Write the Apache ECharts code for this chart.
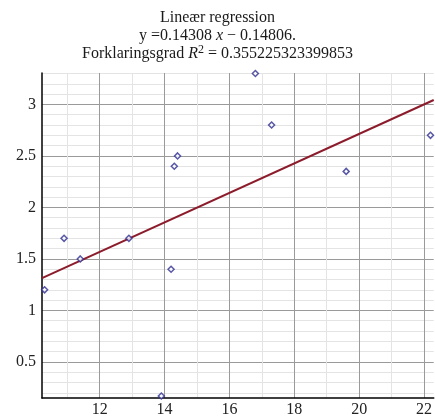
<!DOCTYPE html>
<html><head><meta charset="utf-8">
<script src="https://cdn.jsdelivr.net/npm/echarts@6/dist/echarts.min.js"></script>
<style>html,body{margin:0;padding:0;background:#fff}#c{width:435px;height:418px}</style>
</head><body><div id="c"></div>
<script>
const xValues = [10.3, 10.9, 11.4, 12.9, 13.9, 14.2, 14.3, 14.4, 16.8, 17.3, 19.6, 22.2];
const yValues = [1.2, 1.7, 1.5, 1.7, 0.17, 1.4, 2.4, 2.5, 3.3, 2.8, 2.35, 2.7];
const regression = [0.14308, -0.14806]; // slope, intercept
const xRange = [10.22, 22.3];
const yRange = [0.15, 3.305];

const pts = xValues.map((x, i) => [x, yValues[i]]);
const lineData = xRange.map(x => [x, regression[0] * x + regression[1]]);
const serif = '"Liberation Serif", "DejaVu Serif", serif';

const chart = echarts.init(document.getElementById('c'), null, {renderer: 'canvas'});
chart.setOption({
  animation: false,
  backgroundColor: '#fff',
  title: {
    left: 'center', top: 4,
    text: '{n|Lineær regression}\n{n|y =0.14308 }{i|x}{n| − 0.14806.}\n{n|Forklaringsgrad }{i|R}{s|2}{n| = 0.355225323399853}',
    textStyle: {
      fontFamily: serif, fontSize: 16, color: '#1a1a1a', fontWeight: 'normal', lineHeight: 18,
      rich: {
        n: {fontFamily: serif, fontSize: 16, color: '#1a1a1a', lineHeight: 18},
        i: {fontFamily: serif, fontSize: 16, color: '#1a1a1a', fontStyle: 'italic', lineHeight: 18},
        s: {fontFamily: serif, fontSize: 12, color: '#1a1a1a', lineHeight: 18, padding: [0, 0, 9, 0]}
      }
    }
  },
  grid: {left: 42, right: 0, top: 73, bottom: 19, containLabel: false},
  xAxis: {
    type: 'value', min: xRange[0], max: xRange[1], minInterval: 2, maxInterval: 2,
    axisLine: {show: true, onZero: false, lineStyle: {color: '#000', width: 1.5}},
    axisTick: {show: false},
    axisLabel: {showMinLabel: false, showMaxLabel: false, fontFamily: serif, fontSize: 16, color: '#222', margin: 4},
    splitLine: {show: true, showMinLine: false, showMaxLine: false, lineStyle: {color: '#9a9a9a', width: 1}},
    minorTick: {show: false, splitNumber: 2},
    minorSplitLine: {show: true, lineStyle: {color: '#e4e4e4', width: 1}}
  },
  yAxis: {
    type: 'value', min: yRange[0], max: yRange[1], minInterval: 0.5, maxInterval: 0.5,
    axisLine: {show: true, onZero: false, lineStyle: {color: '#000', width: 1.5}},
    axisTick: {show: false},
    axisLabel: {showMinLabel: false, showMaxLabel: false, fontFamily: serif, fontSize: 16, color: '#222', margin: 6},
    splitLine: {show: true, showMinLine: false, showMaxLine: false, lineStyle: {color: '#9a9a9a', width: 1}},
    minorTick: {show: false, splitNumber: 5},
    minorSplitLine: {show: true, lineStyle: {color: '#e4e4e4', width: 1}}
  },
  series: [
    {
      type: 'line', data: lineData, symbol: 'none', clip: true,
      lineStyle: {color: '#8c1c2c', width: 2}, z: 3
    },
    {
      type: 'scatter', data: pts, symbol: 'diamond', symbolSize: 6, clip: false,
      itemStyle: {color: '#ffffff', borderColor: '#2e2e90', borderWidth: 1.5}, z: 4
    }
  ]
});
</script></body></html>
